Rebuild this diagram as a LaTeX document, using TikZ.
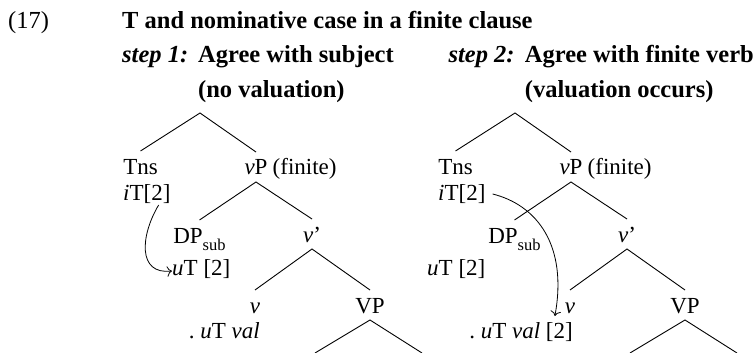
\documentclass[tikz,border=0pt]{standalone}
\usepackage{fontspec}
\setmainfont{Liberation Serif}
\usetikzlibrary{arrows.meta, positioning}
\tikzset{
	hd/.style    ={inner sep=0pt, anchor=base west, font=\fontsize{24.5}{30}\selectfont\bfseries},
	num/.style   ={inner sep=0pt, anchor=base west, font=\fontsize{24.5}{30}\selectfont},
	cat/.style   ={inner sep=0pt, outer sep=7pt, text height=16pt, text depth=0pt, anchor=base},
	feat/.style  ={inner sep=0pt, anchor=base west},
	branch/.style={line width=0.9pt},
	agree/.style ={-{To[length=5pt]}, line width=0.8pt},
}
\newcommand{\subsc}[1]{\raisebox{-7pt}{\fontsize{16.5}{17}\selectfont #1}}

\begin{document}
\begin{tikzpicture}[x=1pt, y=-1pt, font=\fontsize{23}{28}\selectfont]
	\useasboundingbox (0,0) rectangle (756,353);
	% heading
	\node[num] (exnum) at (8,29) {(17)};
	\node[hd] (title) at (122,29) {T and nominative case in a finite clause};
	\node[hd, below=34pt of title.base west, anchor=base west] (stepA) {\textit{step 1:}};
	\node[hd, right=76pt of stepA.base west, anchor=base west] (agreeA) {Agree with subject};
	\node[hd, below=35pt of agreeA.base west, anchor=base west] (nvalA) {(no valuation)};
	\node[hd, anchor=base east] (agreeB) at (754,63) {Agree with finite verb};
	\node[hd, left=10pt of agreeB.base west, anchor=base east] (stepB) {\textit{step 2:}};
	\node[hd, below=35pt of agreeB.base west, anchor=base west] (nvalB) {(valuation occurs)};

	% step 1
	\coordinate (rootA) at (200,113);
	\node[cat] (tnsA) at (140.5,174) {Tns};
	\node[feat] (itA) at (123,200) {\textit{i}T[2]};
	\node[cat] (vpA) at (256,175) {\textit{v}P};
	\node[right=-2pt of vpA.base east, feat] (finA) {(finite)};
	\node[cat] (dpA) at (199.5,243) {DP\subsc{sub}};
	\node[feat] (utA) at (172,275) {\textit{u}T [2]};
	\node[cat] (vbA) at (312,242) {\textit{v}'};
	\node[cat] (vA) at (255,313) {\textit{v}};
	\node[feat, anchor=base east] (valA) at (260,338) {.\ \textit{u}T \textit{val}};
	\node[cat] (VPA) at (370,313) {VP};
	\coordinate (lfA) at (315,353);
	\coordinate (rtA) at (422,353);
	\draw[branch] (tnsA.north) -- (rootA) -- (vpA.north);
	\draw[branch] (dpA.north) -- (vpA.south) -- (vbA.north);
	\draw[branch] (vA.north) -- (vbA.south) -- (VPA.north);
	\draw[branch] (lfA) -- (VPA.south) -- (rtA);
	\draw[agree] ([xshift=-12pt,yshift=-5pt]itA.base east) .. controls +(-18,30) and +(-35,4) .. ([yshift=4pt]utA.base west);

	% step 2
	\begin{scope}[xshift=315pt]
	\coordinate (rootB) at (200,113);
	\node[cat] (tnsB) at (140.5,174) {Tns};
	\node[feat] (itB) at (123,200) {\textit{i}T[2]};
	\node[cat] (vpB) at (256,175) {\textit{v}P};
	\node[right=-2pt of vpB.base east, feat] (finB) {(finite)};
	\node[cat] (dpB) at (199.5,243) {DP\subsc{sub}};
	\node[feat] (utB) at (112,275) {\textit{u}T [2]};
	\node[cat] (vbB) at (312,242) {\textit{v}'};
	\node[cat] (vB) at (255,313) {\textit{v}};
	\node[feat, anchor=base east] (valB) at (258,338) {.\ \textit{u}T \textit{val} [2]};
	\node[cat] (VPB) at (370,313) {VP};
	\coordinate (lfB) at (315,353);
	\coordinate (rtB) at (422,353);
	\end{scope}
	\draw[branch] (tnsB.north) -- (rootB) -- (vpB.north);
	\draw[branch] (dpB.north) -- (vpB.south) -- (vbB.north);
	\draw[branch] (vB.north) -- (vbB.south) -- (VPB.north);
	\draw[branch] (lfB) -- (VPB.south) -- (rtB);
	\draw[agree] ([xshift=7pt,yshift=6pt]itB.base east) .. controls +(44,11) and +(13,-71) .. ([xshift=-3pt,yshift=-3pt]vB.base west);
\end{tikzpicture}
\end{document}
